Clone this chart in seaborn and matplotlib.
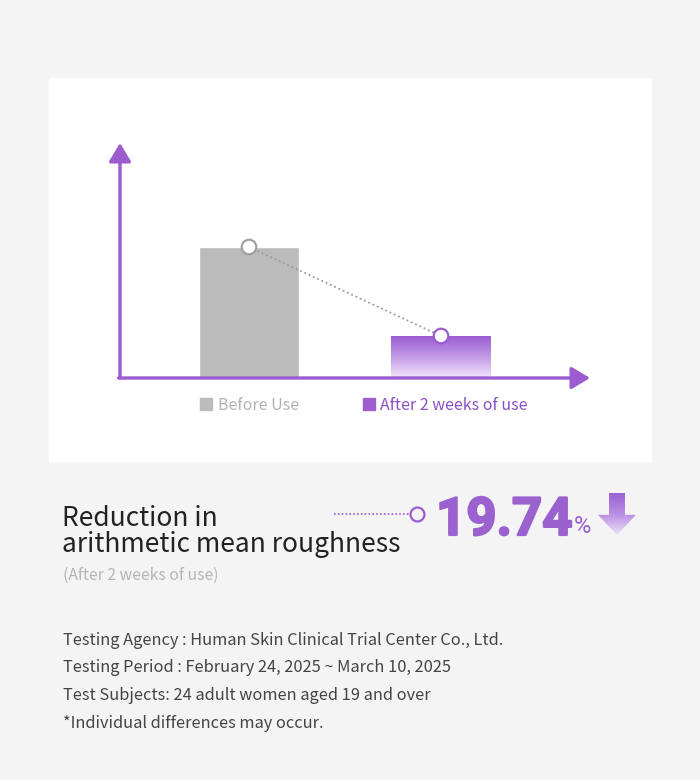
import numpy as np
import matplotlib.pyplot as plt
import matplotlib.patheffects as pe
import seaborn as sns
from matplotlib.patches import Patch, Rectangle, Polygon
from matplotlib.lines import Line2D
from matplotlib.colors import LinearSegmentedColormap

# ---------------- DATA ----------------
groups = ["Before Use", "After 2 weeks of use"]
values = [131, 42]          # bar heights as drawn (relative units)
reduction = "19.74"
title_lines = ["Reduction in", "arithmetic mean roughness"]
subtitle = "(After 2 weeks of use)"
notes = [
    "Testing Agency : Human Skin Clinical Trial Center Co., Ltd.",
    "Testing Period : February 24, 2025 ~ March 10, 2025",
    "Test Subjects: 24 adult women aged 19 and over",
    "*Individual differences may occur.",
]

# ---------------- STYLE ----------------
BG = "#f4f4f4"
PURPLE = "#9a5ccf"
NUM_PURPLE = "#9b62cf"
GRAY_BAR = "#bbbbbb"
W, H = 700, 780

sns.set_theme(style="white")
plt.rcParams["font.family"] = ["Noto Sans CJK KR", "DejaVu Sans"]


def fx(px):
    return px / W


def fy(py):
    return 1 - py / H


fig = plt.figure(figsize=(7, 7.8), dpi=100)
fig.patch.set_facecolor(BG)

# white card behind the chart
fig.add_artist(Rectangle((fx(49), fy(461)), fx(602), 383 / H,
                         transform=fig.transFigure, color="white", zorder=0))

# ---------------- BAR CHART ----------------
ax = fig.add_axes([fx(120), fy(378), fx(470), 235 / H])
ax.set_facecolor("none")

sns.barplot(x=groups, y=values, hue=groups, palette=[GRAY_BAR, PURPLE],
            width=0.52, ax=ax, legend=False, saturation=1)
ax.set_xticks([])
ax.set_yticks([])
ax.set_xlabel("")
ax.set_ylabel("")
for s in ax.spines.values():
    s.set_visible(False)

# gradient fill on the "after" bar
after_bar = max(ax.patches, key=lambda p: p.get_x())
bx, by = after_bar.get_x(), after_bar.get_y()
bw, bh = after_bar.get_width(), after_bar.get_height()
grad = LinearSegmentedColormap.from_list("g", ["#f2e6fc", "#c39be6", "#9a5cd3"])
img = ax.imshow(np.linspace(0, 1, 256).reshape(-1, 1), cmap=grad, origin="lower",
                extent=(bx, bx + bw, by, by + bh), aspect="auto", zorder=3)
img.set_clip_path(after_bar)
ax.set_xlim(-0.672, 1.776)
ax.set_ylim(0, 235)

# axis arrows
arrow = dict(arrowstyle="-|>,head_length=0.75,head_width=0.45", color=PURPLE,
             lw=2.4, mutation_scale=15, shrinkA=0, shrinkB=0)
ax.annotate("", xy=(0, 1.0), xytext=(0, 0), xycoords="axes fraction",
            arrowprops=arrow, annotation_clip=False)
ax.annotate("", xy=(1.0, 0), xytext=(-0.003, 0), xycoords="axes fraction",
            arrowprops=arrow, annotation_clip=False)

# dotted connector with markers at bar tops
ax.plot([0, 1], values, ls=(0, (1, 1.6)), color="#9a9a9a", lw=1.3, zorder=4)
ax.scatter([0, 1], values, s=110, facecolor="white",
           edgecolor=["#a0a0a0", "#9a5ccf"], linewidth=1.6, zorder=5, clip_on=False)

# legend
handles = [Patch(color=GRAY_BAR), Patch(color="#9b5fd0")]
leg = ax.legend(handles, groups, ncol=2, frameon=False, loc="center",
                bbox_to_anchor=(fx(364), fy(405)), bbox_transform=fig.transFigure,
                handlelength=0.75, handleheight=0.75, handletextpad=0.35,
                columnspacing=4.0, fontsize=11.5)
for t, c in zip(leg.get_texts(), ["#b3b3b3", "#8a4fc4"]):
    t.set_color(c)

# ---------------- HEADLINE ----------------
fig.text(fx(62), fy(526), title_lines[0], fontsize=19, color="#222222", va="baseline")
fig.text(fx(62), fy(552), title_lines[1], fontsize=19, color="#222222", va="baseline")
fig.text(fx(63), fy(580), subtitle, fontsize=11.3, color="#b5b5b5", va="baseline")

# dotted pointer to the number
fig.add_artist(Line2D([fx(334), fx(410)], [fy(514), fy(514)], transform=fig.transFigure,
                      ls=(0, (1, 1.3)), color=PURPLE, lw=1.2))
fig.add_artist(Line2D([fx(417)], [fy(514)], transform=fig.transFigure, marker="o",
                      markersize=10, mfc=BG, mec=PURPLE, mew=1.6))

# big number
renderer = fig.canvas.get_renderer()
num = fig.text(fx(436), fy(535), reduction, fontsize=38, fontfamily="Roboto",
               fontweight="bold", color=NUM_PURPLE, va="baseline",
               path_effects=[pe.withStroke(linewidth=1.6, foreground=NUM_PURPLE)])
nx = num.get_window_extent(renderer).x1
fig.text(nx / W + fx(1), fy(533), "%", fontsize=17, fontfamily="Roboto",
         color=NUM_PURPLE, va="baseline")

# gradient down arrow
ax2 = fig.add_axes([fx(598), fy(535), fx(38), 42 / H])
ax2.axis("off")
ax2.set_xlim(0, 1)
ax2.set_ylim(0, 1)
shape = Polygon([(0.29, 1), (0.71, 1), (0.71, 0.48), (1, 0.48), (0.5, 0),
                 (0, 0.48), (0.29, 0.48)], closed=True, facecolor="none", edgecolor="none")
ax2.add_patch(shape)
arr_grad = LinearSegmentedColormap.from_list("a", ["#ecdffa", "#b98fe3", "#9a62d3"])
im2 = ax2.imshow(np.linspace(0, 1, 256).reshape(-1, 1), cmap=arr_grad, origin="lower",
                 extent=(0, 1, 0, 1), aspect="auto")
im2.set_clip_path(shape)

# ---------------- NOTES ----------------
for i, line in enumerate(notes):
    fig.text(fx(63), fy(645 + i * 27.5), line, fontsize=11.8, color="#444444", va="baseline")

fig.savefig("out.png", dpi=100, facecolor=BG)
